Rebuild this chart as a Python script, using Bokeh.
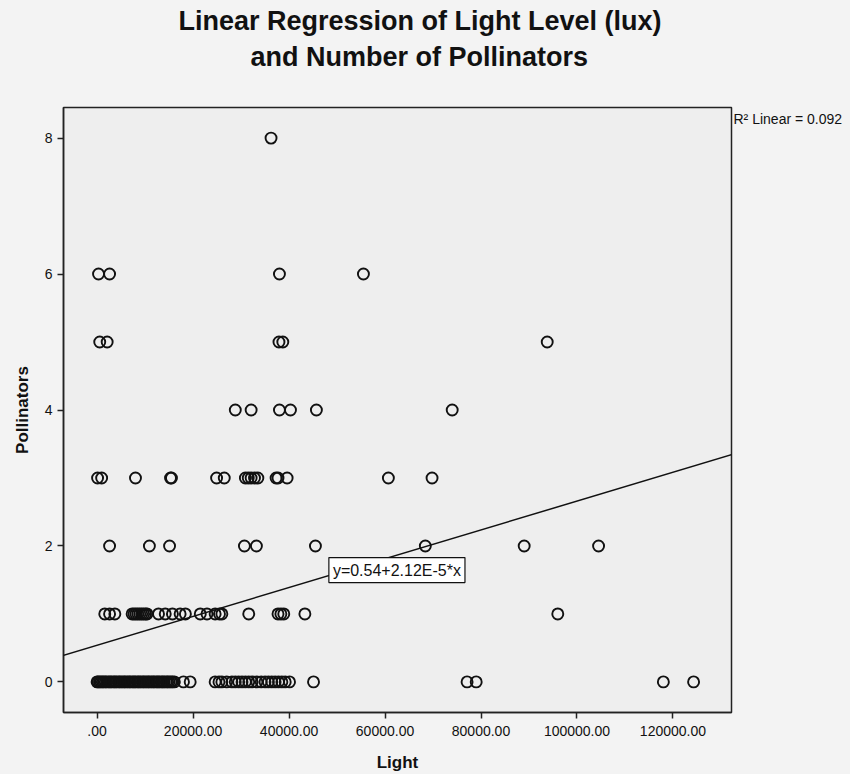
from bokeh.plotting import figure
from bokeh.models import Label, Slope, FixedTicker, Range1d, ColumnDataSource, Title
from bokeh.layouts import row
from bokeh.embed import file_html
from bokeh.resources import INLINE

# ---- data ----
light_8 = [36250]
light_6 = [300, 2600, 38000, 55500]
light_5 = [550, 2100, 37900, 38700, 93800]
light_4 = [28800, 32100, 38000, 40300, 45700, 74000]
light_3 = [100, 950, 8000, 15300, 15500, 24900, 26500, 30900, 31500, 32100,
           32800, 33500, 37300, 37700, 39600, 60700, 69800]
light_2 = [2600, 10900, 15100, 30700, 33200, 45500, 68400, 89000, 104500]
light_1 = [1600, 2600, 3700, 7300, 7700, 8100, 8500, 8900, 9300, 9700, 10100,
           10400, 12800, 14200, 15700, 17300, 18400, 21500, 22900, 24600, 25500,
           26000, 31600, 37700, 38300, 38900, 43300, 96000]
light_0 = [0, 200, 500, 800, 1100, 1400, 1700, 2000, 2400, 2700, 3000, 3400,
           3700, 4000, 4400, 4700, 5000, 5400, 5700, 6000, 6400, 6700, 7000,
           7400, 7700, 8000, 8400, 8700, 9000, 9400, 9700, 10000, 10400, 10700,
           11000, 11400, 11700, 12000, 12400, 12700, 13000, 13400, 13700, 14000,
           14400, 14700, 15000, 15400, 15700, 16100, 18000, 19400,
           24600, 25400, 26000, 27000, 28100, 28800, 29500, 30200, 30900, 31600,
           32300, 33300, 34200, 35000, 35700, 36400, 37100, 37800, 38500, 39200,
           40100, 45100, 77100, 79000, 118000, 124300]

rows = [(8, light_8), (6, light_6), (5, light_5), (4, light_4), (3, light_3),
        (2, light_2), (1, light_1), (0, light_0)]

intercept = 0.54
slope = 2.12e-5
r_squared = 0.092

x_ticks = [0, 20000, 40000, 60000, 80000, 100000, 120000]
x_tick_labels = [".00", "20000.00", "40000.00", "60000.00", "80000.00",
                 "100000.00", "120000.00"]
y_ticks = [0, 2, 4, 6, 8]
y_tick_labels = ["0", "2", "4", "6", "8"]

title_lines = ["Linear Regression of Light Level (lux)", "and Number of Pollinators"]

xs, ys = [], []
for n, vals in rows:
    for v in vals:
        xs.append(v)
        ys.append(n)
src = ColumnDataSource(dict(light=xs, pollinators=ys))

FONT = "Liberation Sans"
BG = "#f3f3f3"
INK = "#111111"

p = figure(
    frame_width=668, frame_height=605,
    min_border_left=63, min_border_right=2, min_border_top=107, min_border_bottom=49,
    x_range=Range1d(-7000, 132200), y_range=Range1d(-0.45, 8.45),
    output_backend="svg", toolbar_location=None,
)
p.background_fill_color = "#eeeeee"
p.border_fill_color = BG
p.outline_line_color = "#222222"
p.outline_line_width = 1.5
p.grid.visible = False

for ax in (p.xaxis[0], p.yaxis[0]):
    ax.major_tick_out = 6
    ax.major_tick_in = 0
    ax.minor_tick_line_color = None
    ax.axis_line_color = "#222222"
    ax.axis_line_width = 1.5
    ax.major_tick_line_color = "#222222"
    ax.major_tick_line_width = 1.5
    ax.major_label_text_font = FONT
    ax.major_label_text_font_size = "14px"
    ax.major_label_text_color = INK
    ax.axis_label_text_font = FONT
    ax.axis_label_text_font_style = "bold"
    ax.axis_label_text_font_size = "17px"
    ax.axis_label_text_color = INK

p.xaxis.ticker = FixedTicker(ticks=x_ticks)
p.xaxis.major_label_overrides = dict(zip(x_ticks, x_tick_labels))
p.xaxis.axis_label = "Light"
p.xaxis.major_label_standoff = 7
p.xaxis.axis_label_standoff = 14

p.yaxis.ticker = FixedTicker(ticks=y_ticks)
p.yaxis.major_label_overrides = dict(zip(y_ticks, y_tick_labels))
p.yaxis.axis_label = "Pollinators"
p.yaxis.major_label_standoff = 5
p.yaxis.axis_label_standoff = 10

p.scatter("light", "pollinators", source=src, marker="circle", size=11,
          fill_color=None, line_color=INK, line_width=1.9)

p.add_layout(Slope(gradient=slope, y_intercept=intercept,
                   line_color=INK, line_width=1.5))

eq = Label(x=48300, y=1.645, text="y=%.2f+%.2fE-5*x" % (intercept, slope * 1e5),
           text_font=FONT, text_font_size="16px", text_color=INK,
           text_baseline="middle", text_align="left",
           background_fill_color="white", border_line_color=INK,
           border_line_width=1.2, padding=4)
p.add_layout(eq)

# two-line title; a blank spacer panel sits between the title and the frame
p.title.text = ""
p.add_layout(Title(text=" ", standoff=21, text_font=FONT, text_font_size="10px"),
             "above")
p.add_layout(Title(text=title_lines[1], align="left", offset=187, standoff=4,
                   text_font=FONT, text_font_style="bold", text_font_size="27px",
                   text_color=INK), "above")
p.add_layout(Title(text=title_lines[0], align="left", offset=115, standoff=4,
                   text_font=FONT, text_font_style="bold", text_font_size="27px",
                   text_color=INK), "above")

# side strip holding the R^2 note, to the right of the frame (shares the y scale)
side = figure(width=117, height=761, x_range=Range1d(0, 1), y_range=p.y_range,
              x_axis_type=None, y_axis_type=None, output_backend="svg",
              toolbar_location=None, min_border=0)
side.outline_line_color = None
side.background_fill_color = BG
side.border_fill_color = BG
side.grid.visible = False
side.add_layout(Label(x=0.0, y=8.28, text="R\u00b2 Linear = %.3f" % r_squared,
                      text_font=FONT, text_font_size="14px", text_color=INK,
                      text_baseline="middle", text_align="left"))

layout = row(p, side, spacing=0, styles={"background-color": BG})
open("out.html", "w").write(file_html(layout, INLINE))
